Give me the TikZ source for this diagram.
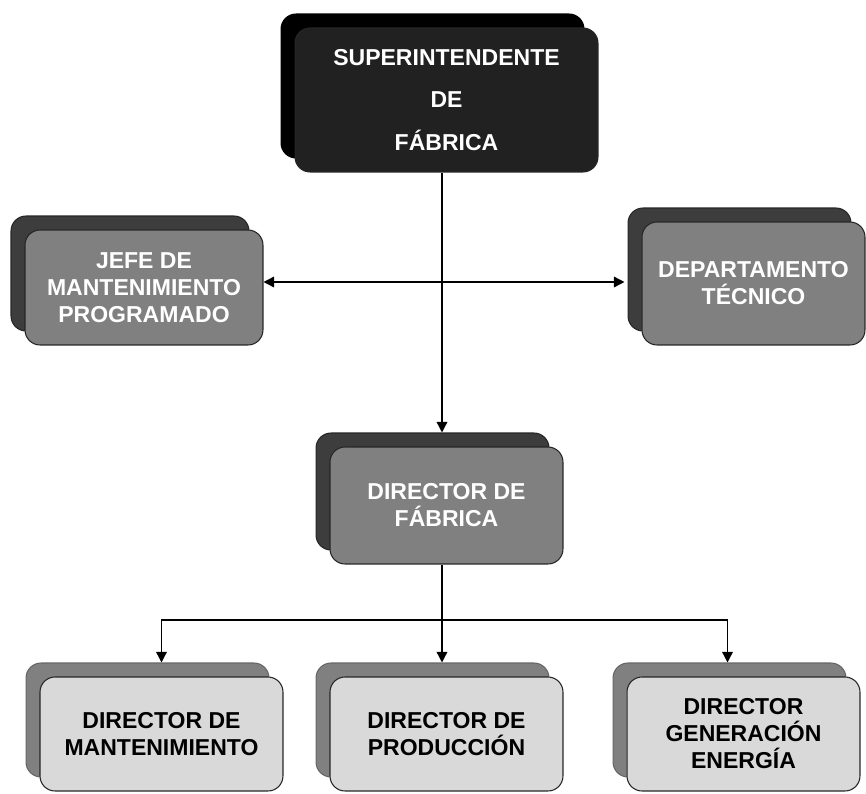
\documentclass[tikz,border=0pt]{standalone}
\usepackage{fontspec}
\setmainfont{Liberation Sans}
\usetikzlibrary{arrows.meta,shadows}

\begin{document}
\begin{tikzpicture}[
		x=0.02cm, y=-0.02cm,
		box/.style = {draw=black!85, line width=0.6pt, rounded corners=0.3cm, align=center, inner sep=2pt,
			font=\fontsize{13.1}{15.4}\selectfont\bfseries},
		boss/.style = {box, fill=black!87, text=white,
			copy shadow={fill=black, draw=black, shadow xshift=-0.28cm, shadow yshift=0.28cm}},
		staff/.style = {box, fill=black!50, text=white,
			copy shadow={fill=black!76, draw=black!85, shadow xshift=-0.28cm, shadow yshift=0.28cm}},
		unit/.style = {box, fill=black!15, text=black,
			copy shadow={fill=black!50, draw=black!60, shadow xshift=-0.28cm, shadow yshift=0.28cm}},
		link/.style = {line width=0.8pt, -{Triangle[length=6pt,width=6pt]}}
	]
		\useasboundingbox (0,0) rectangle (866,794);
		\node[boss, minimum width=6.06cm, minimum height=2.88cm,
			font=\fontsize{13.1}{24}\selectfont\bfseries] (sup) at (446.5,100) {SUPERINTENDENTE\\DE\\FÁBRICA};
		% Staff.
		\node[staff, minimum width=4.76cm, minimum height=2.30cm] (jefe) at (144,287.5) {JEFE DE\\MANTENIMIENTO\\PROGRAMADO};
		\node[staff, minimum width=4.46cm, minimum height=2.46cm] (depto) at (753.5,283.5) {DEPARTAMENTO\\TÉCNICO};
		\node[staff, minimum width=4.66cm, minimum height=2.34cm] (dirf) at (446.5,505.5) {DIRECTOR DE\\FÁBRICA};
		% Directors.
		\node[unit, minimum width=4.86cm, minimum height=2.28cm] (dman) at (161.5,734) {DIRECTOR DE\\MANTENIMIENTO};
		\node[unit, minimum width=4.66cm, minimum height=2.28cm] (dprod) at (446.5,734) {DIRECTOR DE\\PRODUCCIÓN};
		\node[unit, minimum width=4.66cm, minimum height=2.28cm] (dgen) at (743.5,734) {DIRECTOR\\GENERACIÓN\\ENERGÍA};

		\coordinate (hub) at (442,282);
		\coordinate (fork) at (442,620);

		\draw[line width=0.8pt] (sup.south -| hub) -- (hub);
		\draw[link] (hub) -- (hub -| jefe.east);
		\draw[link] (hub) -- ([xshift=-0.34cm]hub -| depto.west);
		\draw[link] (hub) -- ([yshift=0.28cm]dirf.north -| hub);
		\draw[line width=0.8pt] (dirf.south -| fork) -- (fork);
		\draw[link] (fork) -| ([yshift=0.28cm]dman.north);
		\draw[link] (fork) -- ([yshift=0.28cm]dprod.north -| fork);
		\draw[link] (fork) -| ([xshift=-0.32cm, yshift=0.28cm]dgen.north);
	\end{tikzpicture}
\end{document}
